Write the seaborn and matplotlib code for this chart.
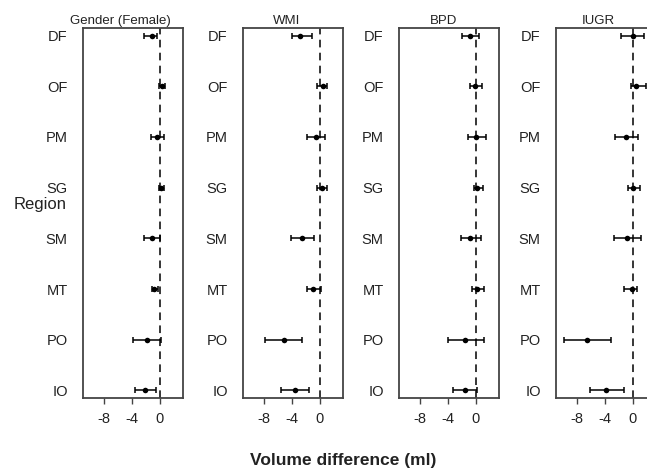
import numpy as np
import pandas as pd
import matplotlib
matplotlib.use("Agg")
import matplotlib.pyplot as plt
import seaborn as sns

sns.set_theme(style="white")
plt.rcParams['font.family'] = ['Liberation Sans', 'DejaVu Sans']

regions = ["DF", "OF", "PM", "SG", "SM", "MT", "PO", "IO"]
titles = ["Gender (Female)", "WMI", "BPD", "IUGR"]

# point estimates and confidence limits (ml)
gender_est = [-1.2, 0.3, -0.4, 0.2, -1.1, -0.8, -1.9, -2.1]
gender_lo = [-2.3, -0.1, -1.3, -0.2, -2.3, -1.2, -3.8, -3.6]
gender_hi = [-0.4, 0.7, 0.6, 0.6, 0.0, -0.3, 0.1, -0.6]

wmi_est = [-2.8, 0.4, -0.6, 0.3, -2.5, -1.0, -5.2, -3.5]
wmi_lo = [-4.0, -0.4, -1.9, -0.4, -4.1, -1.8, -7.8, -5.5]
wmi_hi = [-1.2, 1.0, 0.7, 1.0, -0.9, 0.1, -2.5, -1.6]

bpd_est = [-0.8, -0.1, 0.0, 0.2, -0.8, 0.2, -1.6, -1.5]
bpd_lo = [-2.0, -0.9, -1.2, -0.3, -2.1, -0.5, -4.0, -3.3]
bpd_hi = [0.5, 0.8, 1.5, 1.0, 0.7, 1.1, 1.1, 0.2]

iugr_est = [0.0, 0.5, -1.0, 0.0, -0.8, -0.1, -6.6, -3.8]
iugr_lo = [-1.7, -0.3, -2.6, -0.7, -2.7, -1.3, -9.8, -6.2]
iugr_hi = [1.6, 1.8, 0.7, 1.0, 1.1, 0.6, -3.1, -1.3]

panels = [
    (gender_est, gender_lo, gender_hi),
    (wmi_est, wmi_lo, wmi_hi),
    (bpd_est, bpd_lo, bpd_hi),
    (iugr_est, iugr_lo, iugr_hi),
]

W, H = 647, 471
fig = plt.figure(figsize=(W / 100, H / 100), dpi=100)

lefts = [83, 243, 399, 556]
title_x = [0.37, 0.44, 0.45, 0.42]
top, bottom = 28, 398
edge = "#444444"

for i, (est, lo, hi) in enumerate(panels):
    ax = fig.add_axes([lefts[i] / W, (H - bottom) / H, 100 / W, (bottom - top) / H])
    df = pd.DataFrame({"region": regions, "est": est, "lo": lo, "hi": hi})
    ax.axvline(0, color="black", lw=1.1, ls=(0, (5, 3.5)), zorder=1)
    sns.scatterplot(data=df, x="est", y="region", ax=ax, color="black",
                    s=16, edgecolor="black", linewidth=0, zorder=3)
    ax.errorbar(df["est"], df["region"],
                xerr=[df["est"] - df["lo"], df["hi"] - df["est"]],
                fmt="none", ecolor="black", elinewidth=1.1, capsize=2.5,
                capthick=1.1, zorder=2)
    ax.set_xlim(-11, 3.3)
    ax.set_ylim(len(regions) - 1 + 0.15, -0.15)
    ax.set_xticks([-8, -4, 0])
    ax.set_xticklabels(["-8", "-4", "0"])
    ax.set_xlabel("")
    ax.set_ylabel("")
    ax.tick_params(axis="y", length=0, pad=11, labelsize=10.5, labelcolor="#222222")
    ax.tick_params(axis="x", bottom=True, length=4, width=1, color=edge,
                   pad=6, labelsize=10.5, labelcolor="#222222")
    for s in ax.spines.values():
        s.set_visible(True)
        s.set_color(edge)
        s.set_linewidth(1.3)
    ax.set_title(titles[i], fontsize=9.5, x=title_x[i], pad=3, color="#222222")

# sits just under the SG label, as in the original
fig.text(40 / W, 1 - 204 / H, "Region", ha="center", va="center",
         fontsize=12, color="#222222")
fig.text(343 / W, 1 - 460 / H, "Volume difference (ml)", ha="center",
         va="center", fontsize=12.5, fontweight="bold", color="#222222")

fig.savefig("out.png", dpi=100)
